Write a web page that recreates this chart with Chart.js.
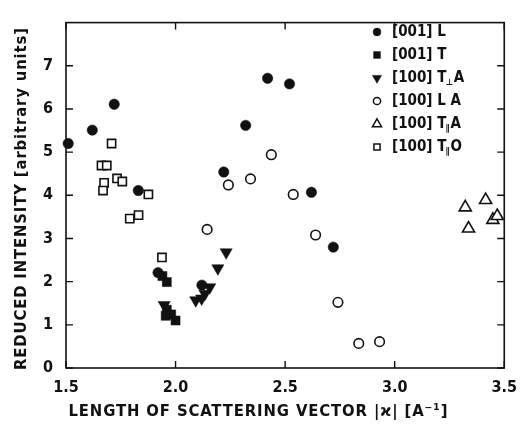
<!DOCTYPE html>
<html>
<head>
<meta charset="utf-8">
<script src="https://cdn.jsdelivr.net/npm/chart.js@4"></script>
<style>
  html, body { margin: 0; padding: 0; background: #fff; }
  #wrap { width: 527px; height: 430px; }
</style>
</head>
<body>
<div id="wrap"><canvas id="chart" width="527" height="430"></canvas></div>
<script>
// values
let xTicks = [1.5, 2.0, 2.5, 3.0, 3.5];
let yTicks = [0, 1, 2, 3, 4, 5, 6, 7];

let l001X = [1.51, 1.62, 1.72, 1.83, 1.92, 2.12, 2.22, 2.32, 2.42, 2.52, 2.62, 2.72];
let l001Y = [5.20, 5.51, 6.11, 4.11, 2.21, 1.92, 4.54, 5.62, 6.71, 6.58, 4.07, 2.80];

let t001X = [1.94, 1.96, 1.96, 1.98, 1.955, 2.0];
let t001Y = [2.13, 1.99, 1.35, 1.24, 1.21, 1.10];

let tPerpX = [1.948, 2.092, 2.119, 2.134, 2.156, 2.193, 2.231];
let tPerpY = [1.46, 1.57, 1.61, 1.72, 1.87, 2.31, 2.68];

let la100X = [2.144, 2.241, 2.342, 2.437, 2.537, 2.639, 2.741, 2.836, 2.931];
let la100Y = [3.21, 4.24, 4.38, 4.94, 4.02, 3.08, 1.52, 0.57, 0.61];

let tParAX = [3.322, 3.415, 3.337, 3.448, 3.468];
let tParAY = [3.72, 3.89, 3.23, 3.43, 3.52];

let tParOX = [1.708, 1.662, 1.686, 1.674, 1.669, 1.733, 1.757, 1.876, 1.791, 1.831, 1.938];
let tParOY = [5.20, 4.69, 4.69, 4.29, 4.11, 4.39, 4.32, 4.02, 3.46, 3.54, 2.56];

const FONT = '"DejaVu Sans Condensed", "Liberation Sans Narrow", "DejaVu Sans", sans-serif';

function pts(xs, ys) {
    return xs.map((x, i) => ({ x: x, y: ys[i] }));
}

let series = [
    { label: [["[001] L", ""]], data: pts(l001X, l001Y), pointStyle: "circle", radius: 5.2, filled: true, rotation: 0 },
    { label: [["[001] T", ""]], data: pts(t001X, t001Y), pointStyle: "rect", radius: 6.4, filled: true, rotation: 0 },
    { label: [["[100] T", ""], ["", "\u22A5"], ["A", ""]], data: pts(tPerpX, tPerpY), pointStyle: "triangle", radius: 7, filled: true, rotation: 180 },
    { label: [["[100] L A", ""]], data: pts(la100X, la100Y), pointStyle: "circle", radius: 4.8, filled: false, rotation: 0 },
    { label: [["[100] T", ""], ["", "\u2225"], ["A", ""]], data: pts(tParAX, tParAY), pointStyle: "triangle", radius: 7, filled: false, rotation: 0 },
    { label: [["[100] T", ""], ["", "\u2225"], ["O", ""]], data: pts(tParOX, tParOY), pointStyle: "rect", radius: 5.8, filled: false, rotation: 0 }
];

// text spread out so it spans the given width
function spreadText(ctx, text, cx, cy, width) {
    ctx.letterSpacing = "0px";
    let w = ctx.measureText(text).width;
    let gap = Math.max(0, (width - w) / (text.length - 1));
    ctx.letterSpacing = gap + "px";
    ctx.textAlign = "left";
    ctx.fillText(text, cx - width / 2, cy);
    ctx.letterSpacing = "0px";
}

// frame, inward ticks on all four sides, axis titles and legend
const decor = {
    id: "decor",
    afterDraw(chart) {
        let ctx = chart.ctx;
        let a = chart.chartArea;
        let xs = chart.scales.x, ys = chart.scales.y;
        ctx.save();
        ctx.strokeStyle = "#111";
        ctx.lineWidth = 1.6;
        ctx.strokeRect(a.left, a.top, a.right - a.left, a.bottom - a.top);
        ctx.lineWidth = 1.4;
        ctx.beginPath();
        xTicks.forEach(v => {
            let px = xs.getPixelForValue(v);
            ctx.moveTo(px, a.bottom); ctx.lineTo(px, a.bottom - 7);
            ctx.moveTo(px, a.top); ctx.lineTo(px, a.top + 7);
        });
        yTicks.forEach(v => {
            let py = ys.getPixelForValue(v);
            ctx.moveTo(a.left, py); ctx.lineTo(a.left + 7, py);
            ctx.moveTo(a.right, py); ctx.lineTo(a.right - 7, py);
        });
        ctx.stroke();

        // axis titles
        ctx.fillStyle = "#111";
        ctx.font = "bold 16.5px " + FONT;
        ctx.textBaseline = "middle";
        spreadText(ctx, "LENGTH OF SCATTERING VECTOR |\u03F0| [A\u207B\u00B9]", 258, 412, 379);
        ctx.translate(22, 199);
        ctx.rotate(-Math.PI / 2);
        spreadText(ctx, "REDUCED INTENSITY [arbitrary units]", 0, 0, 342);
        ctx.setTransform(1, 0, 0, 1, 0, 0);

        // legend
        ctx.textAlign = "left";
        series.forEach((s, i) => {
            let y = 32 + i * 23;
            ctx.fillStyle = s.filled ? "#111" : "#fff";
            ctx.strokeStyle = "#111";
            ctx.lineWidth = s.filled ? 0.5 : 1.5;
            Chart.helpers.drawPoint(ctx, {
                pointStyle: s.pointStyle,
                radius: s.radius * 0.75,
                rotation: s.rotation,
                borderWidth: ctx.lineWidth
            }, 377, y);
            ctx.fillStyle = "#111";
            let x = 392;
            s.label.forEach(seg => {
                if (seg[0]) {
                    ctx.font = "bold 15px " + FONT;
                    ctx.fillText(seg[0], x, y);
                    x += ctx.measureText(seg[0]).width;
                }
                if (seg[1]) {
                    ctx.font = "bold 9px " + FONT;
                    ctx.fillText(seg[1], x - 1, y + 5);
                    x += ctx.measureText(seg[1]).width;
                }
            });
        });
        ctx.restore();
    }
};

new Chart(document.getElementById("chart"), {
    type: "scatter",
    data: {
        datasets: series.map(s => ({
            label: s.label.map(seg => seg.join("")).join(""),
            data: s.data,
            pointStyle: s.pointStyle,
            pointRadius: s.radius,
            pointRotation: s.rotation,
            backgroundColor: s.filled ? "#111" : "#fff",
            borderColor: "#111",
            borderWidth: s.filled ? 0.5 : 1.6,
            clip: false
        }))
    },
    options: {
        responsive: false,
        animation: false,
        layout: { padding: { left: 0, top: 5, right: 13, bottom: 0 } },
        plugins: { legend: { display: false }, tooltip: { enabled: false } },
        scales: {
            x: {
                type: "linear",
                min: 1.5,
                max: 3.5,
                afterFit(scale) { scale.height = 62; },
                afterBuildTicks(scale) { scale.ticks = xTicks.map(v => ({ value: v })); },
                border: { display: false },
                grid: { display: false, drawTicks: false },
                ticks: {
                    padding: 10,
                    color: "#111",
                    font: { family: FONT, size: 16, weight: "bold" },
                    callback: v => v.toFixed(1)
                }
            },
            y: {
                type: "linear",
                min: 0,
                max: 8,
                afterFit(scale) { scale.width = 66; },
                afterBuildTicks(scale) { scale.ticks = yTicks.map(v => ({ value: v })); },
                border: { display: false },
                grid: { display: false, drawTicks: false },
                ticks: {
                    padding: 13,
                    color: "#111",
                    font: { family: FONT, size: 16, weight: "bold" }
                }
            }
        }
    },
    plugins: [decor]
});
</script>
</body>
</html>
